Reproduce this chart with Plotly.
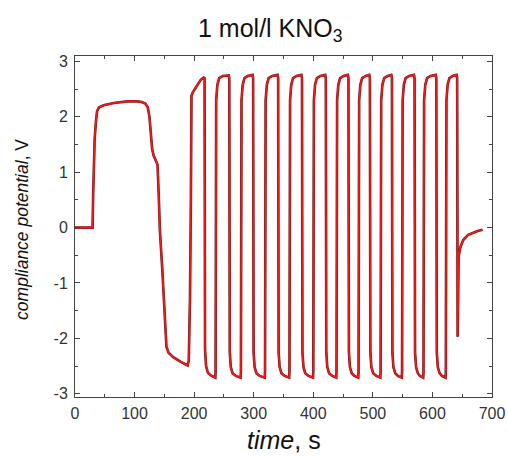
import plotly.graph_objects as go

# ---- data ----
time_s = [
    0, 29.5, 30.5, 31.5, 33, 35, 37, 40, 48, 65, 88, 105, 112, 118, 122, 125, 127, 129.5, 132, 135,
    138.5, 140.5, 142.5, 146.5, 150, 153.5, 157, 165, 177, 186, 189, 191, 193, 194.5, 195.5, 198,
    201, 206, 211, 216, 217.5,
    218.3, 220, 223, 228, 235.5,
    236, 237, 239, 242, 248, 258, 259,
    259.8, 261.5, 264.5, 270, 278,
    278.5, 279.5, 281.5, 284.5, 290, 298, 299,
    299.8, 301.5, 304.5, 310, 318.5,
    319, 320, 322, 325, 331, 340, 341,
    341.8, 343.5, 346.5, 352, 359.5,
    360, 361, 363, 366, 372, 380, 381,
    381.8, 383.5, 386.5, 392, 399.5,
    400, 401, 403, 406, 412, 420, 421,
    421.8, 423.5, 426.5, 432, 438.5,
    439, 440, 442, 445, 451, 458, 459,
    459.8, 461.5, 464.5, 469, 475.5,
    476, 477, 479, 482, 488, 494, 495,
    495.8, 497.5, 500.5, 506, 512.5,
    513, 514, 516, 519, 525, 531, 532,
    532.8, 534.5, 537.5, 542, 548.5,
    549, 550, 552, 555, 561, 569, 570,
    570.8, 572.5, 575.5, 579, 584.5,
    585, 586, 588, 591, 597, 605.5, 606.5,
    607.3, 609, 612, 616, 622,
    622.5, 623.5, 625.5, 628.5, 634, 640.5, 641.5,
    642.3, 643, 644, 647, 652, 660, 668, 676, 684,
]
potential_v = [
    0, 0, 0.6, 1.2, 1.6, 1.9, 2.1, 2.17, 2.21, 2.25, 2.28, 2.28, 2.27, 2.24, 2.18, 2.0, 1.72, 1.42, 1.3, 1.22,
    1.14, 0.6, -0.05, -0.75, -1.5, -2.15, -2.26, -2.34, -2.42, -2.47, -2.49, -2.4, -1.3, 0.5, 2.38, 2.45,
    2.5, 2.6, 2.67, 2.71, 2.7,
    -2.2, -2.5, -2.62, -2.67, -2.71,
    -2.6, 2.3, 2.58, 2.7, 2.74, 2.75, 2.7,
    -2.25, -2.52, -2.63, -2.68, -2.71,
    -2.6, 2.3, 2.58, 2.7, 2.74, 2.76, 2.7,
    -2.25, -2.52, -2.63, -2.68, -2.71,
    -2.6, 2.3, 2.58, 2.7, 2.74, 2.76, 2.7,
    -2.25, -2.52, -2.63, -2.68, -2.71,
    -2.6, 2.3, 2.58, 2.7, 2.74, 2.76, 2.7,
    -2.25, -2.52, -2.63, -2.68, -2.71,
    -2.6, 2.3, 2.58, 2.7, 2.74, 2.76, 2.7,
    -2.25, -2.52, -2.63, -2.68, -2.71,
    -2.6, 2.3, 2.58, 2.7, 2.74, 2.76, 2.7,
    -2.25, -2.52, -2.63, -2.68, -2.71,
    -2.6, 2.3, 2.58, 2.7, 2.74, 2.76, 2.7,
    -2.25, -2.52, -2.63, -2.68, -2.71,
    -2.6, 2.3, 2.58, 2.7, 2.74, 2.76, 2.7,
    -2.25, -2.52, -2.63, -2.68, -2.71,
    -2.6, 2.3, 2.58, 2.7, 2.74, 2.76, 2.7,
    -2.25, -2.52, -2.63, -2.68, -2.71,
    -2.6, 2.3, 2.58, 2.7, 2.74, 2.76, 2.7,
    -2.25, -2.52, -2.63, -2.68, -2.71,
    -2.6, 2.3, 2.58, 2.7, 2.74, 2.76, 2.7,
    -1.97, -0.8, -0.52, -0.35, -0.22, -0.13, -0.09, -0.06, -0.04,
]

x_ticks = [0, 100, 200, 300, 400, 500, 600, 700]
x_tick_labels = ["0", "100", "200", "300", "400", "500", "600", "700"]
y_ticks = [-3, -2, -1, 0, 1, 2, 3]
y_tick_labels = ["-3", "-2", "-1", "0", "1", "2", "3"]

title_text = "1 mol/l KNO<sub>3</sub>"
x_title = "<i>time</i>, s"
y_title = "<i>compliance potential</i>, V"

FONT = "Liberation Sans, Arial, sans-serif"
AX = "#444444"

fig = go.Figure()
fig.add_trace(go.Scatter(x=time_s, y=potential_v, mode="lines",
                         line=dict(color="#7a1414", width=2.6), hoverinfo="skip",
                         showlegend=False))
fig.add_trace(go.Scatter(x=time_s, y=potential_v, mode="lines",
                         line=dict(color="#f01a1a", width=1.6),
                         showlegend=False))

axis_common = dict(
    showgrid=False, zeroline=False, showline=True, linecolor=AX, linewidth=1,
    mirror="ticks", ticks="inside", ticklen=5, tickwidth=1, tickcolor=AX,
    tickfont=dict(family=FONT, size=16, color="#333333"), automargin=False,
    ticklabeloverflow="allow",
)

fig.update_xaxes(range=[0, 700], tickvals=x_ticks, ticktext=x_tick_labels,
                 ticklabelstandoff=2,
                 minor=dict(dtick=50, ticks="inside", ticklen=3, tickcolor=AX, showgrid=False),
                 **axis_common)
fig.update_yaxes(range=[-3.06, 3.1], tickvals=y_ticks, ticktext=y_tick_labels,
                 ticklabelstandoff=3,
                 minor=dict(dtick=0.5, ticks="inside", ticklen=3, tickcolor=AX, showgrid=False),
                 **axis_common)

fig.update_layout(
    width=508, height=457,
    margin=dict(l=75, r=16, t=56, b=60),
    paper_bgcolor="white", plot_bgcolor="white",
    showlegend=False,
    annotations=[
        dict(text=title_text, xref="paper", yref="paper", x=0.468, y=1.0, yshift=26,
             showarrow=False, xanchor="center", yanchor="middle",
             font=dict(family=FONT, size=25, color="#111111")),
        dict(text=x_title, xref="paper", yref="paper", x=0.5, y=0, yshift=-43,
             showarrow=False, xanchor="center", yanchor="middle",
             font=dict(family=FONT, size=25, color="#111111")),
        dict(text=y_title, xref="paper", yref="paper", x=0, xshift=-53, y=0.49,
             textangle=-90, showarrow=False, xanchor="center", yanchor="middle",
             font=dict(family=FONT, size=17.5, color="#111111")),
    ],
)

# remove the browser's default 8px page margin so the 508x457 figure fills the window
fig.write_html(
    "out.html",
    config={"displayModeBar": False},
    post_script=(
        "document.body.style.margin='0';"
        "document.body.style.padding='0';"
        "document.documentElement.style.overflow='hidden';"
        "document.body.style.overflow='hidden';"
    ),
)
